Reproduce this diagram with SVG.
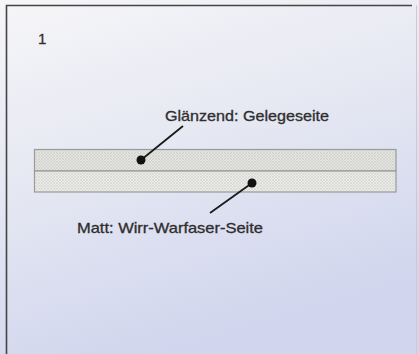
<svg xmlns="http://www.w3.org/2000/svg" width="419" height="354" viewBox="0 0 419 354">
  <defs>
    <linearGradient id="bg" x1="0" y1="0" x2="0.35" y2="1">
      <stop offset="0" stop-color="#f6f6f8"/>
      <stop offset="0.5" stop-color="#e5e7f2"/>
      <stop offset="1" stop-color="#d1d6ee"/>
    </linearGradient>
    <pattern id="hatch" width="3" height="3" patternUnits="userSpaceOnUse">
      <rect width="3" height="3" fill="#e4e4e0"/>
      <path d="M0 0L3 3M3 0L0 3" stroke="#cdcdc9" stroke-width="0.6"/>
    </pattern>
    <pattern id="hatch2" width="3" height="3" patternUnits="userSpaceOnUse">
      <rect width="3" height="3" fill="#ebebe8"/>
      <path d="M0 0L3 3M3 0L0 3" stroke="#d2d2ce" stroke-width="0.6"/>
    </pattern>
  </defs>
  <style>
    .lbl { font-family: "Liberation Sans", Arial, sans-serif; fill: #2e2e2e; stroke: #2e2e2e; stroke-width: 0.3; }
    .lead { stroke: #1a1a1a; stroke-width: 1.8; fill: none; }
    .dot { fill: #111; }
    .layer { stroke: #9a9a9a; stroke-width: 1.2; }
  </style>
  <rect x="0" y="0" width="419" height="354" fill="url(#bg)"/>
  <path d="M6.5 354V5.5H412" fill="none" stroke="#444" stroke-width="1.6"/>
  <path d="M416.5 5.5V354" fill="none" stroke="#c8cadb" stroke-width="1"/>
  <text class="lbl" x="38" y="44" font-size="15">1</text>

  <g id="layer-top">
    <rect class="layer" x="34.5" y="149.5" width="361.5" height="21.5" fill="url(#hatch)"/>
  </g>
  <g id="layer-bottom">
    <rect class="layer" x="34.5" y="171" width="361.5" height="21" fill="url(#hatch2)"/>
  </g>

  <g id="connectors">
    <line class="lead" x1="141" y1="160" x2="183" y2="126"/>
    <line class="lead" x1="252" y1="183" x2="210" y2="213"/>
    <circle class="dot" cx="141" cy="160" r="4.5"/>
    <circle class="dot" cx="252" cy="183" r="4.5"/>
  </g>

  <g id="label-glaenzend">
    <text class="lbl" x="165" y="120.5" font-size="14.5" textLength="164" lengthAdjust="spacingAndGlyphs">Glänzend: Gelegeseite</text>
  </g>
  <g id="label-matt">
    <text class="lbl" x="77" y="232.5" font-size="14.5" textLength="186" lengthAdjust="spacingAndGlyphs">Matt: Wirr-Warfaser-Seite</text>
  </g>
</svg>
